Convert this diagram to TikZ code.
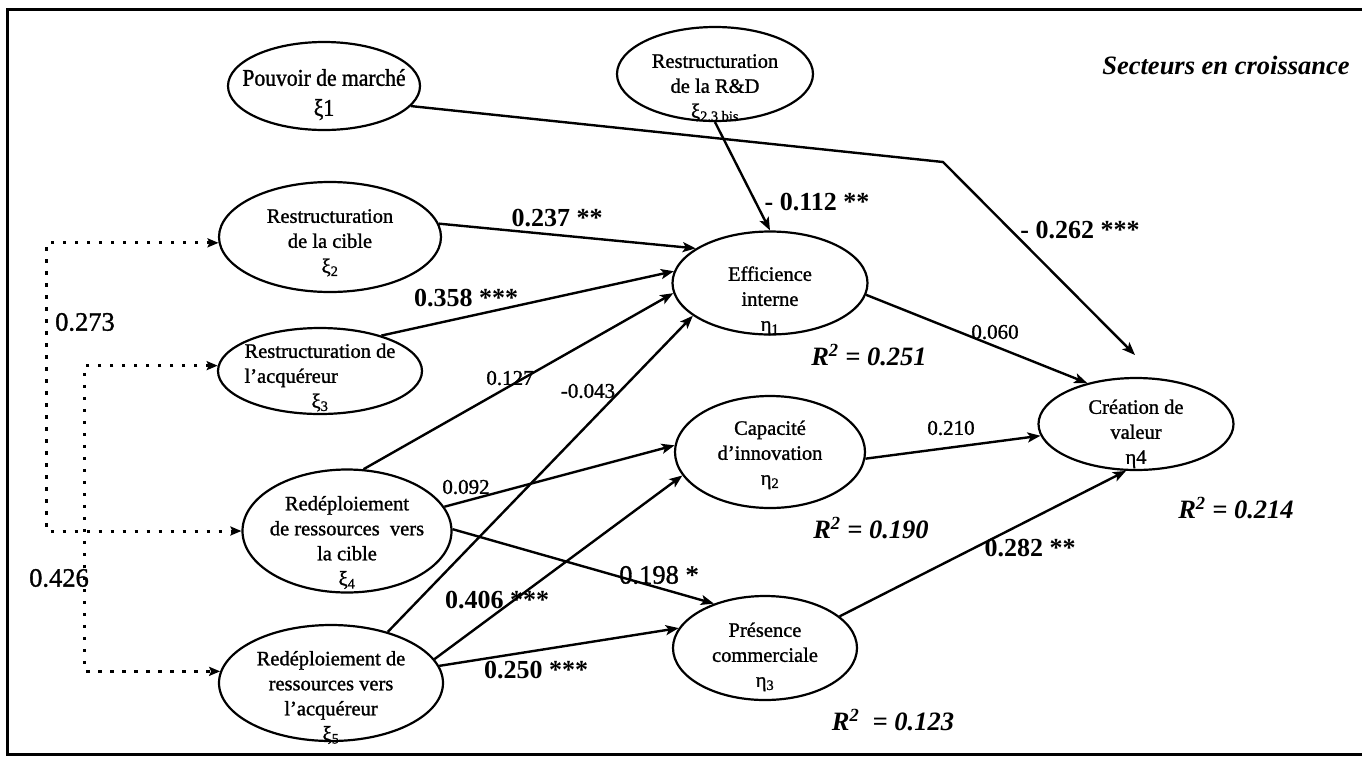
\documentclass[tikz,border=0pt]{standalone}
\usepackage{fontspec}
\setmainfont{Liberation Serif}
\newfontfamily\ovalfont{Liberation Serif}[FakeBold=1.2]
\newfontfamily\bigovalfont{Liberation Serif}[FakeStretch=0.9,FakeBold=1.2]
\usetikzlibrary{arrows.meta}
\usetikzlibrary{shapes.geometric}

% text of a latent variable, lowered inside its ellipse
\newcommand{\ovaltext}[3][c]{\raisebox{#2}[0pt][0pt]{\begin{tabular}{@{}#1@{}}#3\end{tabular}}}

\begin{document}
\begin{tikzpicture}[x=1pt, y=-1pt,
    latent/.style={draw, ellipse, line width=2.2pt, inner xsep=-20pt, inner ysep=0pt,
      font=\ovalfont\fontsize{20.5}{25}\selectfont},
    arr/.style={line width=2.4pt, -{Stealth[length=13pt,width=10pt,inset=3pt]}},
    corr/.style={line width=3pt, dash pattern=on 3.5pt off 8.5pt,
      {Stealth[length=11pt,width=9pt,inset=2pt]}-{Stealth[length=11pt,width=9pt,inset=2pt]}},
    coef/.style={inner sep=0pt, font=\ovalfont\fontsize{21}{21}\selectfont},
    coefbig/.style={inner sep=0pt, font=\ovalfont\fontsize{26.5}{26.5}\selectfont},
    coefb/.style={inner sep=0pt, font=\fontsize{26}{26}\selectfont\bfseries},
    rsq/.style={inner sep=0pt, font=\fontsize{26.5}{26.5}\selectfont\bfseries\itshape}]
    \useasboundingbox (0,0) rectangle (1362,756);
    \draw[line width=3pt] (1362,9) -- (7,9) -- (7,754) -- (1362,754);

    % latent variables
    \node[latent, minimum width=192pt, minimum height=88pt, font=\bigovalfont\fontsize{24}{30}\selectfont] (pouv) at (324,86) {\ovaltext{-15pt}{Pouvoir de marché\\ξ1}};
    \node[latent, minimum width=196pt, minimum height=94pt] (rd) at (715,74) {\ovaltext{-19pt}{Restructuration\\de la R\&D\\ξ\textsubscript{2.3 bis}}};
    \node[latent, minimum width=222pt, minimum height=110pt] (cible) at (330,237) {\ovaltext{-11pt}{Restructuration\\de la cible\\ξ\textsubscript{2}}};
    \node[latent, minimum width=204pt, minimum height=86pt] (acq) at (320,371) {\ovaltext[l]{-12pt}{Restructuration de\\l’acquéreur\\\multicolumn{1}{@{}c@{}}{ξ\textsubscript{3}}}};
    \node[latent, minimum width=209pt, minimum height=123pt] (redc) at (347,531) {\ovaltext{-17pt}{Redéploiement\\de ressources~ vers\\la cible\\ξ\textsubscript{4}}};
    \node[latent, minimum width=224pt, minimum height=116pt] (reda) at (331,683) {\ovaltext{-20pt}{Redéploiement de\\ressources vers\\l’acquéreur\\ξ\textsubscript{5}}};
    \node[latent, minimum width=195pt, minimum height=103pt] (eff) at (770,283) {\ovaltext{-23pt}{Efficience\\interne\\η\textsubscript{1}}};
    \node[latent, minimum width=190pt, minimum height=112pt] (cap) at (770,452) {\ovaltext{-8pt}{Capacité\\d’innovation\\η\textsubscript{2}}};
    \node[latent, minimum width=184pt, minimum height=104pt] (pres) at (765,648) {\ovaltext{-14pt}{Présence\\commerciale\\η\textsubscript{3}}};
    \node[latent, minimum width=195pt, minimum height=92pt] (crea) at (1136,424) {\ovaltext{-15pt}{Création de\\valeur\\η4}};

    % paths
    \coordinate (kink) at (943,162);
    \coordinate (crea-in) at (1135,355);
    \draw[arr] (pouv.-13) -- (kink) -- (crea-in);
    \draw[arr] (rd.south) -- (eff.north);
    \draw[arr] (cible.7) -- (eff.155);
    \draw[arr] (acq.30) -- (eff.173);
    \draw[arr] (redc.75) -- (eff.186);
    \draw[arr] (reda.42) -- (eff.203);
    \draw[arr] (redc.14) -- (cap.176);
    \draw[arr] (redc.1) -- (pres.139);
    \draw[arr] (reda.13) -- (cap.195);
    \draw[arr] (reda.9) -- (pres.167);
    \draw[arr] (eff.-7) -- (crea.140);
    \draw[arr] (cap.-4) -- (crea.187);
    \draw[arr] (pres.23) -- (crea.258);

    % correlations
    \draw[corr] (cible.183) -- ++(-172,0) |- (redc.west);
    \draw[corr] (acq.177) -- ++(-133,0) |- (reda.174);

    % coefficients
    \node[coefb] (c-cib) at (557,218) {0.237 **};
    \node[coefb] (c-acq) at (466,298) {0.358 ***};
    \node[coefb] (c-rd) at (817,202) {- 0.112 **};
    \node[coefb] (c-pouv) at (1080,230) {- 0.262 ***};
    \node[coef] (c-eff) at (995,332) {0.060};
    \node[coef] (c-redc1) at (510,378) {0.127};
    \node[coef] (c-reda1) at (588,391) {-0.043};
    \node[coef] (c-cap) at (951,428) {0.210};
    \node[coef] (c-redc2) at (466,487) {0.092};
    \node[coefbig] (c-redc3) at (659,575) {0.198 *};
    \node[coefb] (c-reda2) at (497,600) {0.406 ***};
    \node[coefb] (c-reda3) at (536,670) {0.250 ***};
    \node[coefb] (c-pres) at (1030,548) {0.282 **};
    \node[coefbig] (r-ext) at (85,322) {0.273};
    \node[coefbig] (r-int) at (59,578) {0.426};

    % explained variance
    \node[rsq] (r2-eff) at (869,355) {R\textsuperscript{2} = 0.251};
    \node[rsq] (r2-cap) at (871,528) {R\textsuperscript{2} = 0.190};
    \node[rsq] (r2-crea) at (1236,508) {R\textsuperscript{2} = 0.214};
    \node[rsq] (r2-pres) at (893,720) {R\textsuperscript{2}~ = 0.123};

    \node[rsq] (title) at (1226,65) {Secteurs en croissance};
  \end{tikzpicture}
\end{document}
